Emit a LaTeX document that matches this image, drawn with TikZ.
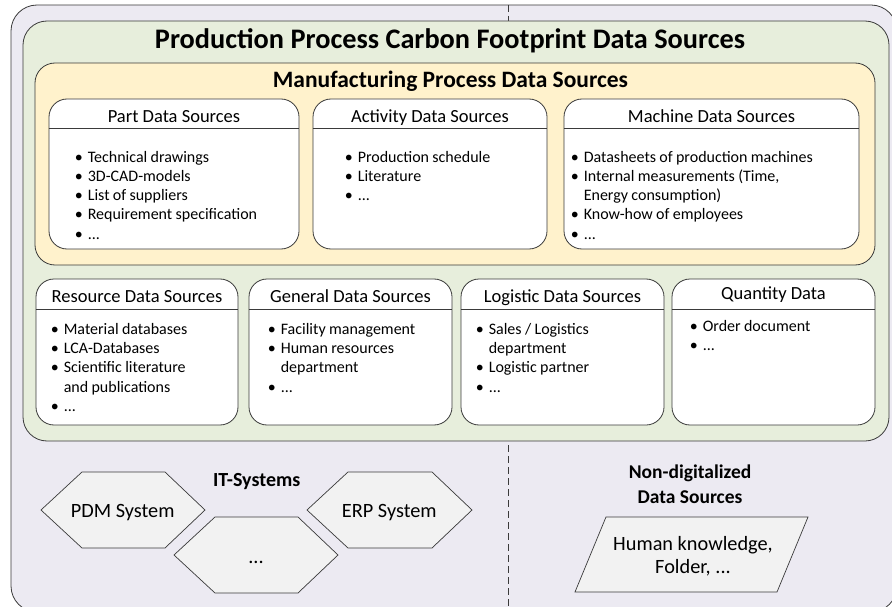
\documentclass[tikz,border=0pt]{standalone}
\usepackage{fontspec}
\setmainfont{Carlito}
\usepackage{enumitem}
\usetikzlibrary{positioning,calc}

\definecolor{outerbg}{HTML}{ECEAF2}
\definecolor{greenbg}{HTML}{E7EEDC}
\definecolor{yellowbg}{HTML}{FFF2CC}
\definecolor{shapebg}{HTML}{F2F2F2}
\definecolor{edge}{HTML}{3A3A3A}

\newcommand{\srclist}[1]{\fontsize{16}{19.3}\selectfont
  \begin{itemize}[leftmargin=12pt,labelsep=5pt,nosep]#1\end{itemize}}

\begin{document}
\begin{tikzpicture}[x=1pt,y=-1pt,
    frame/.style={draw=edge, line width=0.8pt, inner sep=0pt},
    srcbox/.style={frame, fill=white, rounded corners=18pt, minimum height=150pt},
    srchead/.style={font=\fontsize{18.5}{20}\selectfont, inner sep=0pt, anchor=base},
    srctext/.style={anchor=north west, inner sep=0pt, text width=#1},
    srctext/.default=200pt,
    itshape/.style={draw=edge, line width=0.7pt, fill=shapebg},
    itlabel/.style={font=\fontsize{20.3}{23.3}\selectfont, align=center, inner sep=0pt}]
    \useasboundingbox (0,0) rectangle (892,607);

    % outer frame and separator
    \node[frame, fill=outerbg, rounded corners=26pt, minimum width=886pt, minimum height=607pt] (outer) at (454,308.5) {};
    \coordinate (septop) at (508,5);
    \coordinate (sepbot) at (508,607);
    \draw[edge, line width=0.7pt, dash pattern=on 7pt off 4pt] (septop) -- (sepbot);

    % production process
    \node[frame, fill=greenbg, rounded corners=24pt, minimum width=866pt, minimum height=420pt] (prod) at (456,231) {};
    \node[font=\bfseries\fontsize{28.3}{32}\selectfont, inner sep=0pt, anchor=base] (prodT) at (450,48.3) {Production Process Carbon Footprint Data Sources};

    % manufacturing process
    \node[frame, fill=yellowbg, rounded corners=20pt, minimum width=840pt, minimum height=202pt] (manu) at (455,164) {};
    \node[font=\bfseries\fontsize{23.5}{26}\selectfont, inner sep=0pt, anchor=base] (manuT) at (450.5,87.3) {Manufacturing Process Data Sources};

    % Part
    \node[srcbox, minimum width=250pt] (part) at (174,174) {};
    \node[srchead] (partH) at ($(part.north)+(0,23.7)$) {Part Data Sources};
    \draw[edge, line width=0.8pt] ($(part.north west)+(0,30)$) -- ($(part.north east)+(0,30)$);
    \node[srctext] (partL) at ($(part.north west)+(27,44)$) {\srclist{
      \item Technical drawings
      \item 3D-CAD-models
      \item List of suppliers
      \item Requirement specification
      \item ...}};

    % Activity
    \node[srcbox, minimum width=234pt] (act) at (430,174) {};
    \node[srchead] (actH) at ($(act.north)+(0,23.7)$) {Activity Data Sources};
    \draw[edge, line width=0.8pt] ($(act.north west)+(0,30)$) -- ($(act.north east)+(0,30)$);
    \node[srctext] (actL) at ($(act.north west)+(33,44)$) {\srclist{
      \item Production schedule
      \item Literature
      \item ...}};

    % Machine
    \node[srcbox, minimum width=295pt] (mach) at (711.5,174) {};
    \node[srchead] (machH) at ($(mach.north)+(0,23.7)$) {Machine Data Sources};
    \draw[edge, line width=0.8pt] ($(mach.north west)+(0,30)$) -- ($(mach.north east)+(0,30)$);
    \node[srctext=285pt] (machL) at ($(mach.north west)+(8,44)$) {\srclist{
      \item Datasheets of production machines
      \item Internal measurements (Time,\newline Energy consumption)
      \item Know-how of employees
      \item ...}};

    % Resource
    \node[srcbox, minimum width=202pt, minimum height=146pt] (res) at (137,352) {};
    \node[srchead] (resH) at ($(res.north)+(0,23.7)$) {Resource Data Sources};
    \draw[edge, line width=0.8pt] ($(res.north west)+(0,31)$) -- ($(res.north east)+(0,31)$);
    \node[srctext=185pt] (resL) at ($(res.north west)+(16,36)$) {\srclist{
      \item Material databases
      \item LCA-Databases
      \item Scientific literature\newline and publications
      \item ...}};

    % General
    \node[srcbox, minimum width=203pt, minimum height=146pt] (gen) at (350.5,352) {};
    \node[srchead] (genH) at ($(gen.north)+(0,23.7)$) {General Data Sources};
    \draw[edge, line width=0.8pt] ($(gen.north west)+(0,31)$) -- ($(gen.north east)+(0,31)$);
    \node[srctext=185pt] (genL) at ($(gen.north west)+(20,36)$) {\srclist{
      \item Facility management
      \item Human resources\newline department
      \item ...}};

    % Logistic
    \node[srcbox, minimum width=203pt, minimum height=146pt] (log) at (562.5,352) {};
    \node[srchead] (logH) at ($(log.north)+(0,23.7)$) {Logistic Data Sources};
    \draw[edge, line width=0.8pt] ($(log.north west)+(0,31)$) -- ($(log.north east)+(0,31)$);
    \node[srctext=185pt] (logL) at ($(log.north west)+(16,36)$) {\srclist{
      \item Sales / Logistics\newline department
      \item Logistic partner
      \item ...}};

    % Quantity
    \node[srcbox, minimum width=203pt, minimum height=146pt] (qty) at (773.5,352) {};
    \node[srchead] (qtyH) at ($(qty.north)+(0,21)$) {Quantity Data};
    \draw[edge, line width=0.8pt] ($(qty.north west)+(0,31)$) -- ($(qty.north east)+(0,31)$);
    \node[srctext=185pt] (qtyL) at ($(qty.north west)+(19,33)$) {\srclist{
      \item Order document
      \item ...}};

    % IT systems
    \node[font=\bfseries\fontsize{20}{24}\selectfont, inner sep=0pt, anchor=base] (itT) at (256.7,486.7) {IT-Systems};
    \draw[itshape] (41,510) -- (82,472) -- (165,472) -- (205,510) -- (165,548) -- (82,548) -- cycle;
    \node[itlabel, anchor=base] (pdm) at (122.7,517.3) {PDM System};
    \draw[itshape] (174,555) -- (215,517) -- (298,517) -- (338,555) -- (298,593) -- (215,593) -- cycle;
    \node[itlabel, anchor=base] (more) at (256,563) {...};
    \draw[itshape] (307,510) -- (348,472) -- (432,472) -- (472,510) -- (432,548) -- (348,548) -- cycle;
    \node[itlabel, anchor=base] (erp) at (389.3,517.3) {ERP System};

    % non-digitalized
    \node[font=\bfseries\fontsize{19.5}{25}\selectfont, align=center, inner sep=0pt] (ndT) at (690,484) {Non-digitalized\\Data Sources};
    \draw[itshape] (575,592) -- (606,517) -- (808,517) -- (777,592) -- cycle;
    \node[itlabel] (human) at (693,556) {Human knowledge,\\Folder, ...};
\end{tikzpicture}
\end{document}
